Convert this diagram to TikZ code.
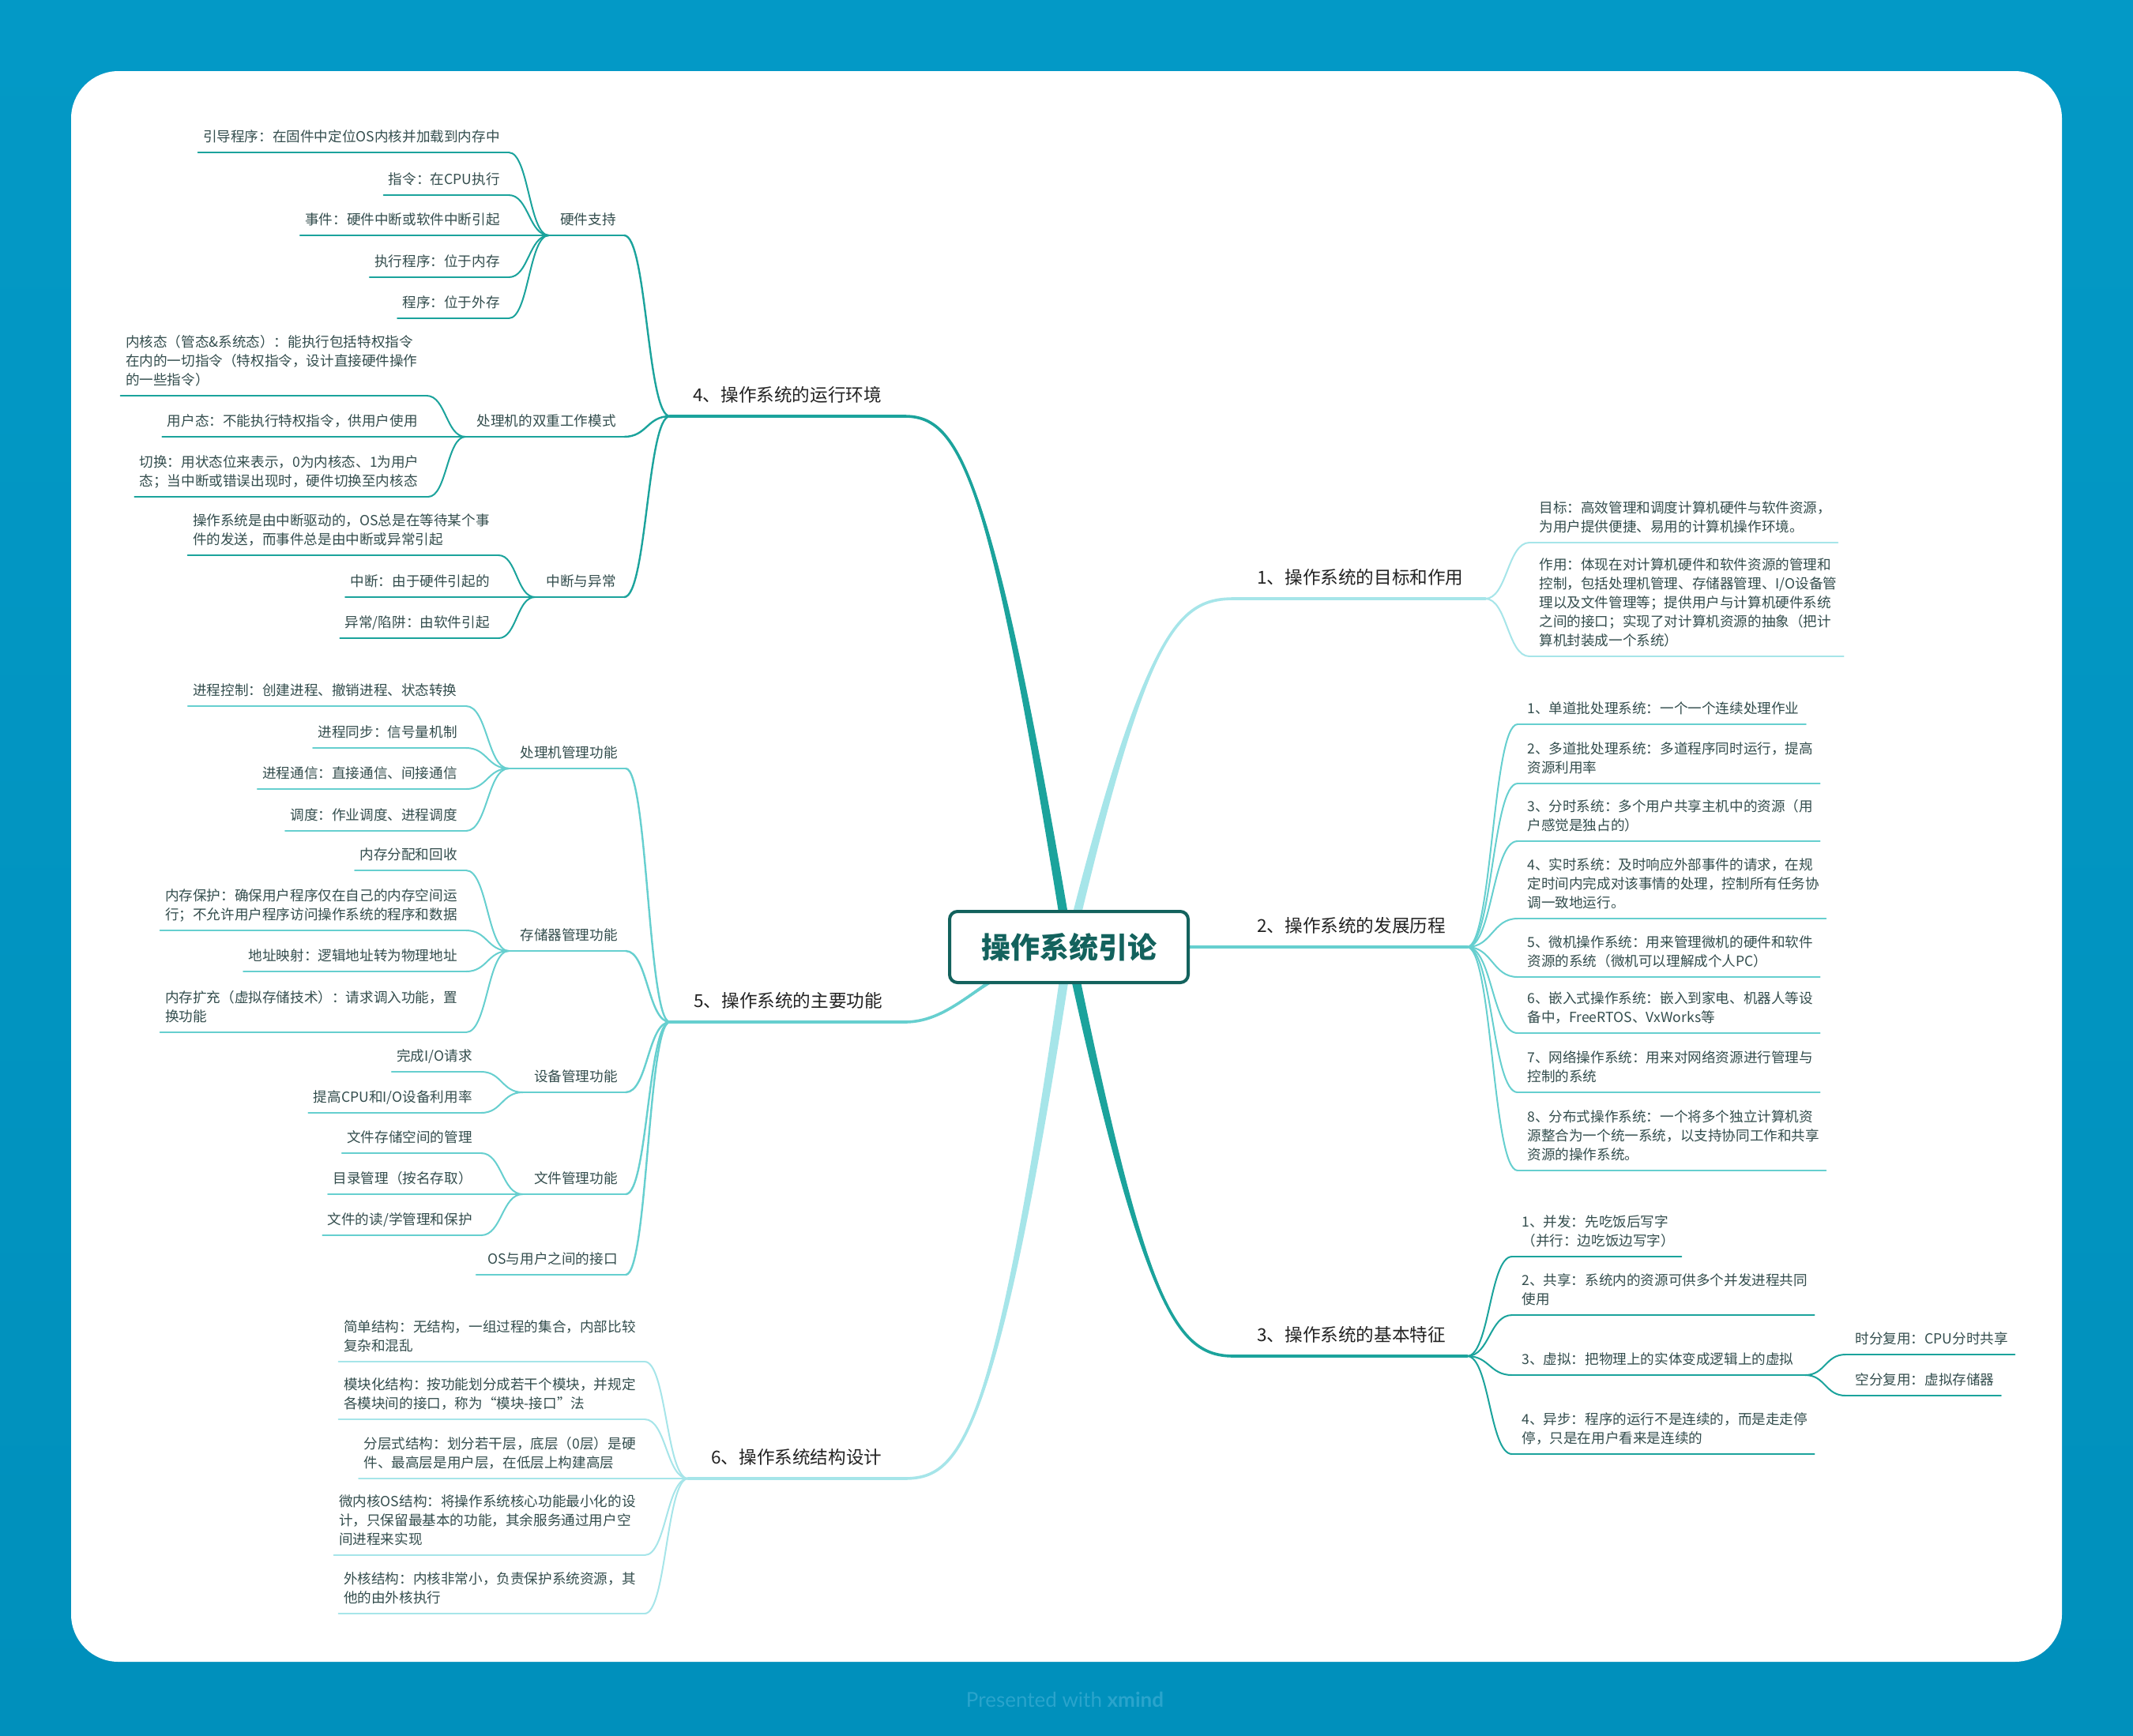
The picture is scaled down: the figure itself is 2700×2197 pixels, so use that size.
\documentclass[tikz,border=0pt]{standalone}
\usepackage{fontspec}
\setmainfont{Noto Sans CJK SC}
\newfontfamily\latofont{Lato}
\usetikzlibrary{calc}
\definecolor{bgtop}{HTML}{0399C6}
\definecolor{bgbot}{HTML}{0090BC}
\definecolor{cdark}{HTML}{1BA39C}
\definecolor{cmid}{HTML}{66CFCF}
\definecolor{clight}{HTML}{A6E5E9}
\definecolor{leafc}{HTML}{334D4D}
\definecolor{mainc}{HTML}{222222}
\definecolor{rootc}{HTML}{13625D}
\definecolor{brandc}{HTML}{2AA4CC}
\newcommand\leaffont{\fontsize{8.8pt}{12pt}\selectfont}
\newcommand\mtfont{\fontsize{11.3pt}{14pt}\selectfont}
\tikzset{
  leaf/.style={font=\leaffont, text=leafc, inner sep=0pt, align=left},
  maintopic/.style={font=\mtfont, text=mainc, inner sep=0pt, anchor=base west},
  ln/.style={line width=1pt, line cap=round},
  lnD/.style={ln, draw=cdark}, lnM/.style={ln, draw=cmid}, lnL/.style={ln, draw=clight},
  sb/.style={line width=1.2pt, line cap=round},
  subD/.style={sb, draw=cdark}, subM/.style={sb, draw=cmid},
  mn/.style={line width=1.8pt, line cap=round},
  mainD/.style={mn, draw=cdark}, mainM/.style={mn, draw=cmid}, mainL/.style={mn, draw=clight},
  rootbox/.style={draw=rootc, line width=2pt, rounded corners=5pt, fill=white,
    minimum width=151pt, minimum height=45pt, inner sep=0pt, text=rootc,
    font=\fontsize{18.5pt}{22pt}\selectfont\bfseries}
}
% S-shaped connector from junction to child end
\newcommand\sconn[3]{\draw[#3] let \p1=(#1), \p2=(#2) in (\p1) .. controls ({0.5*\x1+0.5*\x2},\y1) and ({0.5*\x1+0.5*\x2},\y2) .. (\p2);}
% tapered main branch from root centre
\newcommand\taper[6]{%
  \fill[#1] ($(R0)+(#5*6,#6*6)$) .. controls ($(#2)+(#5*3,#6*3)$) and (#3) .. (#4)
    .. controls (#3) and ($(#2)-(#5*3,#6*3)$) .. ($(R0)-(#5*6,#6*6)$) -- cycle;
  \draw[#1, line width=1.8pt] (R0) .. controls (#2) and (#3) .. (#4);}
% leaf on the left: name, right x of underline, y of underline, style, text
\newcommand\LeafL[5]{%
  \node[leaf, anchor=south east] (#1) at ({#2-11},{#3-6}) {#5\strut};
  \coordinate (#1r) at (#2,#3);
  \draw[#4] ($(#1.south west)+(-6,6)$) -- (#1r);}
% leaf on the right: name, left x of underline, y of underline, style, text
\newcommand\LeafR[5]{%
  \node[leaf, anchor=south west] (#1) at ({#2+12},{#3-6}) {#5\strut};
  \coordinate (#1l) at (#2,#3);
  \draw[#4] (#1l) -- ($(#1.south east)+(8,6)$);}
% sub topic on the left
\newcommand\SubL[5]{%
  \node[leaf, anchor=south east] (#1) at ({#2-10},{#3-6}) {#5\strut};
  \coordinate (#1R) at (#2,#3);
  \coordinate (#1L) at ($(#1.south west)+(-14,6)$);
  \draw[#4] (#1L) -- (#1R);}
\begin{document}
\begin{tikzpicture}[x=0.5pt,y=-0.5pt]
\useasboundingbox (0,0) rectangle (2700,2197);
\shade[top color=bgtop, bottom color=bgbot] (0,0) rectangle (2700,2197);
\fill[white, rounded corners=30pt] (90,90) rectangle (2610,2104);
\node[font=\latofont\fontsize{13pt}{15pt}\selectfont, text=brandc] (brand) at (1348,2152) {Presented with \textbf{xmind}};

\coordinate (R0) at (1353,1199);

% ---------- main branches ----------
\taper{cdark}{1255,600}{1215,527}{1145,527}{1}{0}
\taper{cmid}{1250,1220}{1215,1294}{1145,1294}{0.2}{1}
\taper{clight}{1260,1830}{1215,1872}{1144,1872}{1}{0}
\taper{clight}{1450,800}{1490,758}{1562,758}{1}{0}
\taper{cmid}{1420,1199}{1500,1199}{1562,1199}{0}{1}
\taper{cdark}{1450,1660}{1490,1717}{1562,1717}{1}{0}

% ---------- 4 ----------
\node[maintopic] (m4) at (877,508) {4、操作系统的运行环境};
\coordinate (m4L) at (848,527); \coordinate (m4R) at (1145,527);
\draw[mainD] (m4L) -- (m4R);
\SubL{s41}{790}{298}{subD}{硬件支持}
\SubL{s42}{790}{553}{subD}{处理机的双重工作模式}
\SubL{s43}{790}{756}{subD}{中断与异常}
\foreach \s in {s41,s42,s43}{\sconn{m4L}{\s R}{subD}}
\LeafL{a1}{644}{193}{lnD}{引导程序：在固件中定位OS内核并加载到内存中}
\LeafL{a2}{644}{247}{lnD}{指令：在CPU执行}
\LeafL{a3}{644}{298}{lnD}{事件：硬件中断或软件中断引起}
\LeafL{a4}{644}{351}{lnD}{执行程序：位于内存}
\LeafL{a5}{644}{403}{lnD}{程序：位于外存}
\foreach \s in {a1,a2,a3,a4,a5}{\sconn{s41L}{\s r}{lnD}}
\LeafL{b1}{540}{501}{lnD}{内核态（管态\&系统态）：能执行包括特权指令\\在内的一切指令（特权指令，设计直接硬件操作\\的一些指令）}
\LeafL{b2}{540}{553}{lnD}{用户态：不能执行特权指令，供用户使用}
\LeafL{b3}{542}{629}{lnD}{切换：用状态位来表示，0为内核态、1为用户\\态；当中断或错误出现时，硬件切换至内核态}
\foreach \s in {b1,b2,b3}{\sconn{s42L}{\s r}{lnD}}
\LeafL{c1}{631}{703}{lnD}{操作系统是由中断驱动的，OS总是在等待某个事\\件的发送，而事件总是由中断或异常引起}
\LeafL{c2}{631}{756}{lnD}{中断：由于硬件引起的}
\LeafL{c3}{631}{808}{lnD}{异常/陷阱：由软件引起}
\foreach \s in {c1,c2,c3}{\sconn{s43L}{\s r}{lnD}}

% ---------- 5 ----------
\node[maintopic] (m5) at (878,1275) {5、操作系统的主要功能};
\coordinate (m5L) at (848,1294); \coordinate (m5R) at (1145,1294);
\draw[mainM] (m5L) -- (m5R);
\SubL{s51}{792}{973}{subM}{处理机管理功能}
\SubL{s52}{792}{1204}{subM}{存储器管理功能}
\SubL{s53}{792}{1383}{subM}{设备管理功能}
\SubL{s54}{792}{1512}{subM}{文件管理功能}
\SubL{s55}{792}{1614}{subM}{OS与用户之间的接口}
\foreach \s in {s51,s52,s53,s54,s55}{\sconn{m5L}{\s R}{subM}}
\LeafL{d1}{590}{894}{lnM}{进程控制：创建进程、撤销进程、状态转换}
\LeafL{d2}{590}{947}{lnM}{进程同步：信号量机制}
\LeafL{d3}{590}{999}{lnM}{进程通信：直接通信、间接通信}
\LeafL{d4}{590}{1052}{lnM}{调度：作业调度、进程调度}
\foreach \s in {d1,d2,d3,d4}{\sconn{s51L}{\s r}{lnM}}
\LeafL{e1}{590}{1102}{lnM}{内存分配和回收}
\LeafL{e2}{590}{1178}{lnM}{内存保护：确保用户程序仅在自己的内存空间运\\行；不允许用户程序访问操作系统的程序和数据}
\LeafL{e3}{590}{1230}{lnM}{地址映射：逻辑地址转为物理地址}
\LeafL{e4}{590}{1307}{lnM}{内存扩充（虚拟存储技术）：请求调入功能，置\\换功能}
\foreach \s in {e1,e2,e3,e4}{\sconn{s52L}{\s r}{lnM}}
\LeafL{f1}{609}{1357}{lnM}{完成I/O请求}
\LeafL{f2}{609}{1409}{lnM}{提高CPU和I/O设备利用率}
\foreach \s in {f1,f2}{\sconn{s53L}{\s r}{lnM}}
\LeafL{g1}{609}{1460}{lnM}{文件存储空间的管理}
\LeafL{g2}{609}{1512}{lnM}{目录管理（按名存取）}
\LeafL{g3}{609}{1564}{lnM}{文件的读/学管理和保护}
\foreach \s in {g1,g2,g3}{\sconn{s54L}{\s r}{lnM}}

% ---------- 6 ----------
\node[maintopic] (m6) at (900,1853) {6、操作系统结构设计};
\coordinate (m6L) at (871,1872); \coordinate (m6R) at (1144,1872);
\draw[mainL] (m6L) -- (m6R);
\LeafL{h1}{816}{1724}{lnL}{简单结构：无结构，一组过程的集合，内部比较\\复杂和混乱}
\LeafL{h2}{816}{1797}{lnL}{模块化结构：按功能划分成若干个模块，并规定\\各模块间的接口，称为“模块-接口”法}
\LeafL{h3}{816}{1872}{lnL}{分层式结构：划分若干层，底层（0层）是硬\\件、最高层是用户层，在低层上构建高层}
\LeafL{h4}{816}{1969}{lnL}{微内核OS结构：将操作系统核心功能最小化的设\\计，只保留最基本的功能，其余服务通过用户空\\间进程来实现}
\LeafL{h5}{816}{2043}{lnL}{外核结构：内核非常小，负责保护系统资源，其\\他的由外核执行}
\foreach \s in {h1,h2,h3,h4,h5}{\sconn{m6L}{\s r}{lnL}}

% ---------- 1 ----------
\node[maintopic] (m1) at (1591,739) {1、操作系统的目标和作用};
\coordinate (m1L) at (1562,758); \coordinate (m1R) at (1880,758);
\draw[mainL] (m1L) -- (m1R);
\LeafR{i1}{1936}{687}{lnL}{目标：高效管理和调度计算机硬件与软件资源，\\为用户提供便捷、易用的计算机操作环境。}
\LeafR{i2}{1936}{831}{lnL}{作用：体现在对计算机硬件和软件资源的管理和\\控制，包括处理机管理、存储器管理、I/O设备管\\理以及文件管理等；提供用户与计算机硬件系统\\之间的接口；实现了对计算机资源的抽象（把计\\算机封装成一个系统）}
\foreach \s in {i1,i2}{\sconn{m1R}{\s l}{lnL}}

% ---------- 2 ----------
\node[maintopic] (m2) at (1591,1180) {2、操作系统的发展历程};
\coordinate (m2L) at (1562,1199); \coordinate (m2R) at (1857,1199);
\draw[mainM] (m2L) -- (m2R);
\LeafR{j1}{1921}{917}{lnM}{1、单道批处理系统：一个一个连续处理作业}
\LeafR{j2}{1921}{992}{lnM}{2、多道批处理系统：多道程序同时运行，提高\\资源利用率}
\LeafR{j3}{1921}{1065}{lnM}{3、分时系统：多个用户共享主机中的资源（用\\户感觉是独占的）}
\LeafR{j4}{1921}{1163}{lnM}{4、实时系统：及时响应外部事件的请求，在规\\定时间内完成对该事情的处理，控制所有任务协\\调一致地运行。}
\LeafR{j5}{1921}{1237}{lnM}{5、微机操作系统：用来管理微机的硬件和软件\\资源的系统（微机可以理解成个人PC）}
\LeafR{j6}{1921}{1308}{lnM}{6、嵌入式操作系统：嵌入到家电、机器人等设\\备中，FreeRTOS、VxWorks等}
\LeafR{j7}{1921}{1383}{lnM}{7、网络操作系统：用来对网络资源进行管理与\\控制的系统}
\LeafR{j8}{1921}{1482}{lnM}{8、分布式操作系统：一个将多个独立计算机资\\源整合为一个统一系统，以支持协同工作和共享\\资源的操作系统。}
\foreach \s in {j1,j2,j3,j4,j5,j6,j7,j8}{\sconn{m2R}{\s l}{lnM}}

% ---------- 3 ----------
\node[maintopic] (m3) at (1591,1698) {3、操作系统的基本特征};
\coordinate (m3L) at (1562,1717); \coordinate (m3R) at (1857,1717);
\draw[mainD] (m3L) -- (m3R);
\LeafR{k1}{1914}{1591}{lnD}{1、并发：先吃饭后写字\\（并行：边吃饭边写字）}
\LeafR{k2}{1914}{1665}{lnD}{2、共享：系统内的资源可供多个并发进程共同\\使用}
\LeafR{k3}{1914}{1741}{lnD}{3、虚拟：把物理上的实体变成逻辑上的虚拟}
\LeafR{k4}{1914}{1841}{lnD}{4、异步：程序的运行不是连续的，而是走走停\\停，只是在用户看来是连续的}
\foreach \s in {k1,k2,k3,k4}{\sconn{m3R}{\s l}{lnD}}
\coordinate (k3j) at (2285,1741);
\draw[lnD] ($(k3.south east)+(8,6)$) -- (k3j);
\LeafR{k31}{2336}{1715}{lnD}{时分复用：CPU分时共享}
\LeafR{k32}{2336}{1767}{lnD}{空分复用：虚拟存储器}
\foreach \s in {k31,k32}{\sconn{k3j}{\s l}{lnD}}

% ---------- root ----------
\node[rootbox] (root) at (R0) {操作系统引论};
\end{tikzpicture}
\end{document}
